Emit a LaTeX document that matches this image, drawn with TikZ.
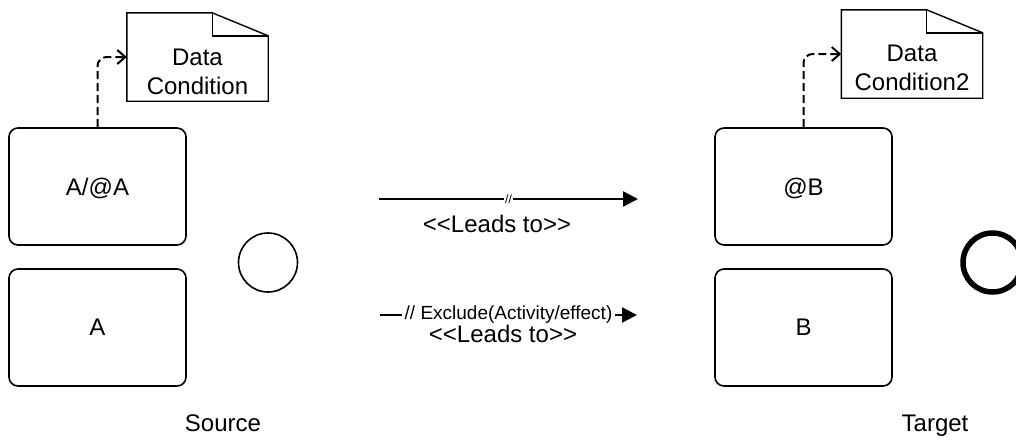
\documentclass[tikz,border=0pt]{standalone}
\usepackage{fontspec}
\setmainfont{Liberation Sans}[Ligatures=TeXOff]
\usetikzlibrary{arrows.meta,calc}

\begin{document}
\begin{tikzpicture}[x=1pt,y=-1pt,
  every node/.style={font=\fontsize{24}{29}\selectfont, inner sep=0pt},
  task/.style={draw, line width=1.6pt, rounded corners=9pt,
    minimum width=177pt, minimum height=117pt, text depth=0pt},
  notebox/.style={minimum width=141pt, minimum height=88pt},
  noteline/.style={line width=1.4pt, line join=miter},
  assoc/.style={line width=2pt, dash pattern=on 8pt off 4pt, rounded corners=9pt,
    -{Straight Barb[length=8pt,width=14pt]}},
  flow/.style={line width=2.3pt, -{Triangle[length=15pt,width=15pt]}},
  event/.style={circle, draw, minimum size=59pt},
]
\useasboundingbox (0,0) rectangle (1016,439);

% activities
\node[task] (t1) at (97.5,186.5) {A/@A};
\node[task] (t2) at (97.5,327.5) {A};
\node[task] (t3) at (803.5,186.5) {@B};
\node[task] (t4) at (803.5,327.5) {B};

% events
\node[event, line width=1.6pt] (ev1) at (268,262.5) {};
\node[event, line width=5.5pt] (ev2) at (992.5,262.5) {};

% data notes with folded corner
\node[notebox] (dc1) at (197.5,57) {};
\node[notebox] (dc2) at (912,54) {};
\foreach \n in {dc1,dc2}{
  \draw[noteline] (\n.north west) -- ($(\n.north east)+(-56,0)$)
    -- ($(\n.north east)+(0,23)$) -- (\n.south east) -- (\n.south west) -- cycle;
  \draw[noteline] ($(\n.north east)+(-56,0)$) |- ($(\n.north east)+(0,23)$);
}
\node[align=center] (dc1t) at ($(dc1.center)+(0,14.5)$) {Data\\Condition};
\node[align=center] (dc2t) at ($(dc2.center)+(0,14)$) {Data\\Condition2};

% associations
\draw[assoc] (t1.north) |- (dc1.west);
\draw[assoc] (t3.north) |- (dc2.west);

% sequence flows
\coordinate (f1s) at (379,199);
\coordinate (f1e) at (638,199);
\coordinate (f2s) at (380,315);
\coordinate (f2e) at (637,315);
\draw[flow] (f1s) -- node[fill=white, inner xsep=1.5pt, font=\fontsize{12}{13}\selectfont] (m1) {//} (f1e);
\draw[flow] (f2s) -- node[fill=white, inner xsep=2.5pt, inner ysep=1pt, font=\fontsize{19}{22}\selectfont] (m2) {// Exclude(Activity/effect)} (f2e);
\node (l1) at (497,224) {<<Leads to>>};
\node (l2) at (503,333.5) {<<Leads to>>};

% captions
\node[anchor=base] (src) at (223,431.5) {Source};
\node[anchor=base] (tgt) at (935,431.5) {Target};
\end{tikzpicture}
\end{document}
